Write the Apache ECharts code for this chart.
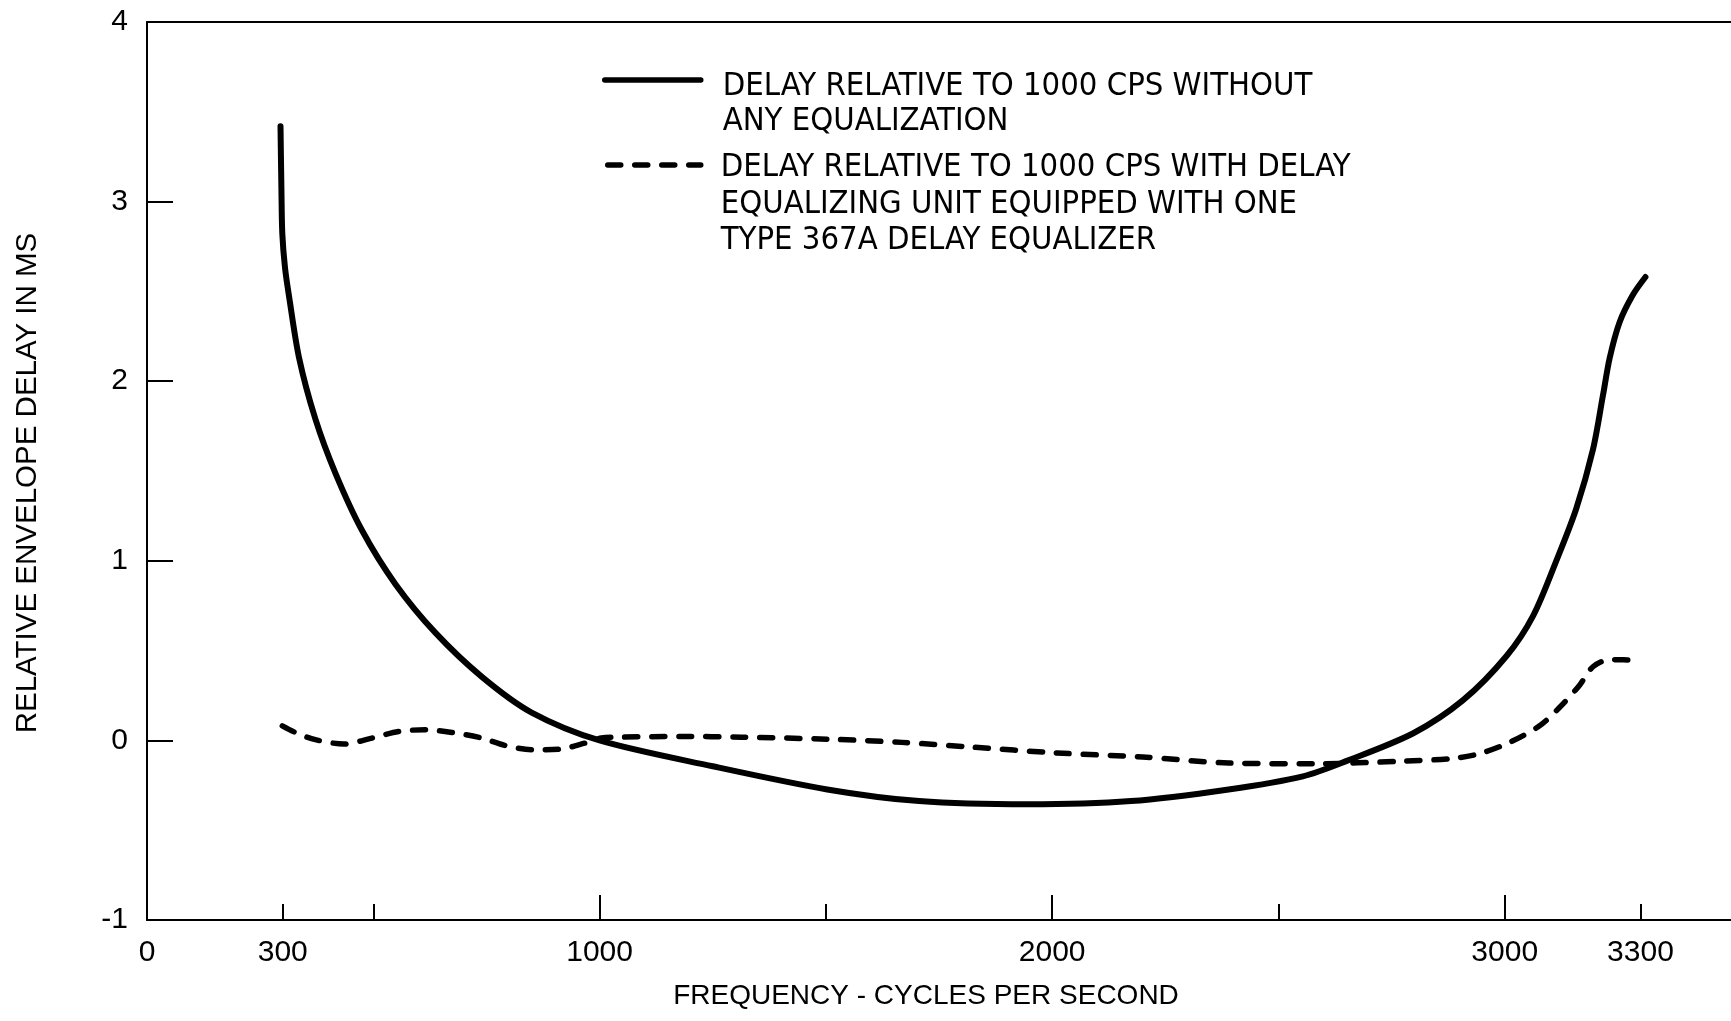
<!DOCTYPE html>
<html>
<head>
<meta charset="utf-8">
<script src="https://cdn.jsdelivr.net/npm/echarts@6/dist/echarts.min.js"></script>
<style>
html,body{margin:0;padding:0;background:#fff;}
#chart{width:1731px;height:1021px;}
</style>
</head>
<body>
<div id="chart"></div>
<script>
// Series 1: delay relative to 1000 cps without any equalization [frequency, ms]
var solidFreq = [295, 297, 299, 305, 314, 336, 372, 416, 475, 549, 637, 740, 850, 1000, 1250, 1503, 1706, 1946, 2174, 2390, 2554, 2651, 2798, 2908, 3004, 3063, 3114, 3158, 3195, 3217, 3232, 3254, 3283, 3311];
var solidDelay = [3.42, 3.07, 2.82, 2.63, 2.47, 2.13, 1.79, 1.49, 1.17, 0.87, 0.60, 0.354, 0.155, 0, -0.144, -0.273, -0.338, -0.356, -0.338, -0.273, -0.2, -0.114, 0.04, 0.224, 0.47, 0.695, 1.0, 1.29, 1.62, 1.92, 2.13, 2.33, 2.48, 2.58];

// Series 2: with delay equalizing unit (one type 367A equalizer) [frequency, ms]
var dashFreq = [299, 328, 372, 435, 497, 556, 615, 674, 740, 791, 850, 913, 968, 1004, 1048, 1181, 1313, 1503, 1668, 1820, 2010, 2200, 2390, 2579, 2769, 2886, 2945, 3011, 3077, 3121, 3165, 3195, 3232, 3300];
var dashDelay = [0.081, 0.044, 0.004, -0.02, 0.013, 0.05, 0.059, 0.044, 0.013, -0.028, -0.052, -0.048, -0.015, 0.013, 0.018, 0.022, 0.018, 0.007, -0.011, -0.037, -0.07, -0.092, -0.126, -0.13, -0.116, -0.1, -0.073, -0.011, 0.081, 0.183, 0.306, 0.41, 0.45, 0.445];

var xLabelValues = [0, 300, 1000, 2000, 3000, 3300];
var xMajorTicks = [1000, 2000, 3000];
var xMinorTicks = [300, 500, 1500, 2500, 3300];

var seriesNames = ['DELAY RELATIVE TO 1000 CPS WITHOUT ANY EQUALIZATION',
                   'DELAY RELATIVE TO 1000 CPS WITH DELAY EQUALIZING UNIT EQUIPPED WITH ONE TYPE 367A DELAY EQUALIZER'];
var legendLines = [
  ['DELAY RELATIVE TO 1000 CPS WITHOUT', 'ANY EQUALIZATION'],
  ['DELAY RELATIVE TO 1000 CPS WITH DELAY', 'EQUALIZING UNIT EQUIPPED WITH ONE', 'TYPE 367A DELAY EQUALIZER']
];

function pairs(xs, ys){ return xs.map(function(x,i){ return [x, ys[i]]; }); }

var FONT = '"Liberation Sans", Arial, sans-serif';
var NARROW = '"Liberation Sans Narrow", "DejaVu Sans Condensed", "Liberation Sans", sans-serif';
var LH1 = 35, LH2 = 36.5;
var D1 = 7, D2 = 3;       // downward shift of the legend text relative to its line sample
var C1 = 80, C2 = 165;    // vertical centre of each legend line sample

var chart = echarts.init(document.getElementById('chart'), null, {renderer:'canvas'});
chart.setOption({
  backgroundColor: '#fff',
  animation: false,
  grid: {left: 147, right: -4, top: 22, bottom: 101, containLabel: false},
  legend: [
    {
      data: [seriesNames[0]], left: 602, top: C1 - 1.5*LH1 - D1, padding: 0,
      itemWidth: 96, itemHeight: 10, selectedMode: false,
      formatter: function(){ return '{s| }\n' + legendLines[0].join('\n'); },
      textStyle: {color:'#000', fontSize: 32.5, fontFamily: NARROW, lineHeight: LH1, padding: [0, 0, 0, 17],
                  rich: {s: {fontSize: 8, lineHeight: LH1 + 2*D1}}},
      itemStyle: {opacity: 0},
      lineStyle: {width: 5.5, cap: 'round'}
    },
    {
      data: [seriesNames[1]], left: 605, top: C2 - 2.5*LH2 - D2, padding: 0,
      itemWidth: 93, itemHeight: 10, selectedMode: false,
      formatter: function(){ return '{s| }\n\n' + legendLines[1].join('\n'); },
      textStyle: {color:'#000', fontSize: 32.5, fontFamily: NARROW, lineHeight: LH2, padding: [0, 0, 0, 15],
                  rich: {s: {fontSize: 8, lineHeight: LH2 + 2*D2}}},
      itemStyle: {opacity: 0},
      lineStyle: {width: 5.5, cap: 'round'}
    }
  ],
  xAxis: [
    {
      type: 'value', position: 'bottom', min: 0, max: 3500,
      axisLine: {show: true, onZero: false, lineStyle: {color:'#000', width: 2}},
      axisTick: {show: true, inside: true, length: 25, customValues: xMajorTicks, lineStyle: {color:'#000', width: 2}},
      axisLabel: {show: true, customValues: xLabelValues, color:'#000', fontSize: 30, margin: 18, fontFamily: FONT,
                  formatter: function(v){ return String(v); }},
      splitLine: {show: false},
      name: 'FREQUENCY - CYCLES PER SECOND', nameLocation: 'middle', nameGap: 62,
      nameTextStyle: {color:'#000', fontSize: 28, fontFamily: FONT, padding: [0, 26, 0, 0]}
    },
    {
      type: 'value', position: 'bottom', min: 0, max: 3500,
      axisLine: {show: false, onZero: false},
      axisTick: {show: true, inside: true, length: 16, customValues: xMinorTicks, lineStyle: {color:'#000', width: 2}},
      axisLabel: {show: false},
      splitLine: {show: false}
    },
    {
      type: 'value', position: 'top', min: 0, max: 3500,
      axisLine: {show: true, onZero: false, lineStyle: {color:'#000', width: 2}},
      axisTick: {show: false}, axisLabel: {show: false}, splitLine: {show: false}
    }
  ],
  yAxis: {
    type: 'value', min: -1, max: 4, interval: 1,
    axisLine: {show: true, onZero: false, lineStyle: {color:'#000', width: 2}},
    axisTick: {show: true, inside: true, length: 26, lineStyle: {color:'#000', width: 2}},
    axisLabel: {color:'#000', fontSize: 30, margin: 19, fontFamily: FONT},
    splitLine: {show: false},
    name: 'RELATIVE ENVELOPE DELAY IN MS', nameLocation: 'middle', nameGap: 104,
    nameTextStyle: {color:'#000', fontSize: 29.5, fontFamily: FONT, padding: [0, 24, 0, 0]}
  },
  series: [
    {
      name: seriesNames[0], type: 'line', data: pairs(solidFreq, solidDelay),
      symbol: 'none', showSymbol: false, smooth: 0.3,
      lineStyle: {color:'#000', width: 6, cap: 'round', join: 'round'},
      itemStyle: {color:'#000'}, z: 3
    },
    {
      name: seriesNames[1], type: 'line', data: pairs(dashFreq, dashDelay),
      symbol: 'none', showSymbol: false, smooth: 0.3,
      lineStyle: {color:'#000', width: 5.5, type: [13, 14], cap: 'round', join: 'round'},
      itemStyle: {color:'#000'}, z: 2
    }
  ]
});
</script>
</body>
</html>
